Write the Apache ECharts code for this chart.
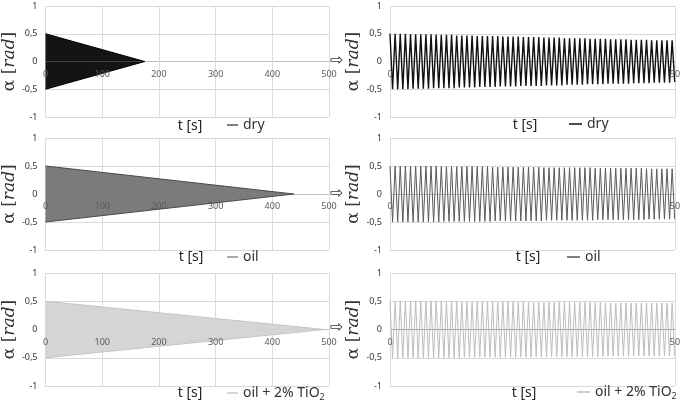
<!DOCTYPE html>
<html><head><meta charset="utf-8">
<script src="https://cdn.jsdelivr.net/npm/echarts@6/dist/echarts.min.js"></script>
<style>html,body{margin:0;padding:0;background:#fff}#c{width:685px;height:404px}</style>
</head><body><div id="c"></div>
<script>
// ---- data ----
const seriesNames = ['dry', 'oil', 'oil + 2% TiO2'];
const yTicks = [-1, -0.5, 0, 0.5, 1];
const yTickLabels = ['-1', '-0,5', '0', '0,5', '1'];

// left column: envelope of the dense oscillation (0..500 s)
const dryEnvT = [0, 175];
const oilEnvT = [0, 438];
const tio2EnvT = [0, 492];
const envUpper = [0.5, 0];
const envLower = [-0.5, 0];

// right column: zoom 0..50 s, successive peaks
const peakT = [
0,0.45,0.9,1.35,1.8,2.25,2.7,3.15,3.6,4.05,
4.5,4.95,5.4,5.85,6.3,6.75,7.2,7.65,8.1,8.55,
9,9.45,9.9,10.35,10.8,11.25,11.7,12.15,12.6,13.05,
13.5,13.95,14.4,14.85,15.3,15.75,16.2,16.65,17.1,17.55,
18,18.45,18.9,19.35,19.8,20.25,20.7,21.15,21.6,22.05,
22.5,22.95,23.4,23.85,24.3,24.75,25.2,25.65,26.1,26.55,
27,27.45,27.9,28.35,28.8,29.25,29.7,30.15,30.6,31.05,
31.5,31.95,32.4,32.85,33.3,33.75,34.2,34.65,35.1,35.55,
36,36.45,36.9,37.35,37.8,38.25,38.7,39.15,39.6,40.05,
40.5,40.95,41.4,41.85,42.3,42.75,43.2,43.65,44.1,44.55,
45,45.45,45.9,46.35,46.8,47.25,47.7,48.15,48.6,49.05,
49.5,49.95];
const dryPeaks = [
0.50,-0.50,0.50,-0.50,0.50,-0.50,0.50,-0.50,0.49,-0.49,
0.49,-0.49,0.49,-0.49,0.49,-0.49,0.49,-0.48,0.48,-0.48,
0.48,-0.48,0.48,-0.48,0.48,-0.48,0.47,-0.47,0.47,-0.47,
0.47,-0.47,0.47,-0.47,0.46,-0.46,0.46,-0.46,0.46,-0.46,
0.46,-0.46,0.46,-0.45,0.45,-0.45,0.45,-0.45,0.45,-0.45,
0.45,-0.44,0.44,-0.44,0.44,-0.44,0.44,-0.44,0.44,-0.44,
0.43,-0.43,0.43,-0.43,0.43,-0.43,0.43,-0.43,0.42,-0.42,
0.42,-0.42,0.42,-0.42,0.42,-0.42,0.42,-0.41,0.41,-0.41,
0.41,-0.41,0.41,-0.41,0.41,-0.40,0.40,-0.40,0.40,-0.40,
0.40,-0.40,0.40,-0.40,0.39,-0.39,0.39,-0.39,0.39,-0.39,
0.39,-0.39,0.38,-0.38,0.38,-0.38,0.38,-0.38,0.38,-0.38,
0.38,-0.37];
const oilPeaks = [
0.50,-0.50,0.50,-0.50,0.50,-0.50,0.50,-0.50,0.50,-0.50,
0.50,-0.50,0.50,-0.50,0.50,-0.50,0.50,-0.50,0.50,-0.50,
0.49,-0.49,0.49,-0.49,0.49,-0.49,0.49,-0.49,0.49,-0.49,
0.49,-0.49,0.49,-0.49,0.49,-0.49,0.49,-0.49,0.49,-0.49,
0.48,-0.48,0.48,-0.48,0.48,-0.48,0.48,-0.48,0.48,-0.48,
0.48,-0.48,0.48,-0.48,0.48,-0.48,0.48,-0.48,0.48,-0.48,
0.47,-0.47,0.47,-0.47,0.47,-0.47,0.47,-0.47,0.47,-0.47,
0.47,-0.47,0.47,-0.47,0.47,-0.47,0.47,-0.47,0.47,-0.47,
0.46,-0.46,0.46,-0.46,0.46,-0.46,0.46,-0.46,0.46,-0.46,
0.46,-0.46,0.46,-0.46,0.46,-0.46,0.46,-0.46,0.46,-0.46,
0.45,-0.45,0.45,-0.45,0.45,-0.45,0.45,-0.45,0.45,-0.45,
0.45,-0.45];
const tio2Peaks = [
0.50,-0.50,0.50,-0.50,0.50,-0.50,0.50,-0.50,0.50,-0.50,
0.50,-0.50,0.50,-0.50,0.50,-0.50,0.50,-0.50,0.50,-0.50,
0.50,-0.50,0.50,-0.50,0.50,-0.50,0.50,-0.50,0.49,-0.49,
0.49,-0.49,0.49,-0.49,0.49,-0.49,0.49,-0.49,0.49,-0.49,
0.49,-0.49,0.49,-0.49,0.49,-0.49,0.49,-0.49,0.49,-0.49,
0.49,-0.49,0.49,-0.49,0.49,-0.49,0.48,-0.48,0.48,-0.48,
0.48,-0.48,0.48,-0.48,0.48,-0.48,0.48,-0.48,0.48,-0.48,
0.48,-0.48,0.48,-0.48,0.48,-0.48,0.48,-0.48,0.48,-0.48,
0.48,-0.48,0.48,-0.48,0.47,-0.47,0.47,-0.47,0.47,-0.47,
0.47,-0.47,0.47,-0.47,0.47,-0.47,0.47,-0.47,0.47,-0.47,
0.47,-0.47,0.47,-0.47,0.47,-0.47,0.47,-0.47,0.47,-0.47,
0.47,-0.47];

// ---- layout / style ----
const rowsTop = [6, 138, 273];
const rowsH = [111, 112, 113];
const colLeft = [45, 390];
const colW = [284, 285];
const fills = ['#141414', '#7b7b7b', '#d5d5d5'];
const edges = ['#000000', '#4a4a4a', '#c4c4c4'];
const lines = ['#111111', '#5a5a5a', '#bdbdbd'];
const lineW = [1.4, 1, 1];
const leftLegendColors = ['#555555', '#8a8a8a', '#c8c8c8'];
const rightLegendColors = ['#111111', '#555555', '#bdbdbd'];
const envT = [dryEnvT, oilEnvT, tio2EnvT];
const peaks = [dryPeaks, oilPeaks, tio2Peaks];

const zip = (xs, ys) => xs.map((x, i) => [x, ys[i]]);
const font = 'Noto Sans';

const grid = [], xAxis = [], yAxis = [], series = [], legend = [], graphic = [];
for (let r = 0; r < 3; r++) {
  for (let c = 0; c < 2; c++) {
    const gi = grid.length;
    const xMax = c === 0 ? 500 : 50, xInt = c === 0 ? 100 : 50;
    const zeroCol = r === 2 && c === 1 ? '#9a9a9a' : '#c0c0c0';
    grid.push({left: colLeft[c], top: rowsTop[r], width: colW[c], height: rowsH[r], containLabel: false});
    // axis for gridlines (under the marks)
    const xi = xAxis.length;
    xAxis.push({
      type: 'value', gridIndex: gi, min: 0, max: xMax, interval: xInt,
      axisLine: {show: false, onZero: false}, axisTick: {show: false}, axisLabel: {show: false},
      splitLine: {show: true, lineStyle: {color: '#dcdcdc', width: 1}}
    });
    // axis for labels at y = 0 (over the marks)
    xAxis.push({
      type: 'value', gridIndex: gi, min: 0, max: xMax, interval: xInt,
      position: 'bottom', offset: -rowsH[r] / 2, z: 5,
      axisLine: {show: false, onZero: false}, axisTick: {show: false},
      axisLabel: {margin: 8, fontSize: 9, color: '#5a5a5a', fontFamily: font},
      splitLine: {show: false}
    });
    yAxis.push({
      type: 'value', gridIndex: gi, min: -1, max: 1, interval: 0.5,
      axisLine: {show: false}, axisTick: {show: false},
      axisLabel: {margin: 8, fontSize: 9, color: '#333', fontFamily: font,
        formatter: v => { const k = yTicks.indexOf(v); return k >= 0 ? yTickLabels[k] : ''; }},
      splitLine: {show: true, lineStyle: {color: ['#d9d9d9', '#d9d9d9', zeroCol, '#d9d9d9', '#d9d9d9'], width: 1}},
      name: 'α [{i|rad}]', nameLocation: 'middle', nameGap: 24, nameRotate: 90,
      nameTextStyle: {fontSize: 17, color: '#333', fontFamily: 'DejaVu Serif',
        rich: {i: {fontSize: 17, fontStyle: 'italic', fontFamily: 'DejaVu Serif', color: '#333'}}}
    });
    if (c === 0) {
      [envUpper, envLower].forEach(env => {
        series.push({
          type: 'line', name: seriesNames[r], xAxisIndex: xi, yAxisIndex: gi,
          data: zip(envT[r], env), symbol: 'none', silent: true,
          lineStyle: {color: edges[r], width: 1},
          itemStyle: {color: leftLegendColors[r]},
          areaStyle: {color: fills[r], opacity: 1}
        });
      });
    } else {
      series.push({
        type: 'line', name: seriesNames[r], xAxisIndex: xi, yAxisIndex: gi,
        data: zip(peakT, peaks[r]), symbol: 'none', silent: true,
        lineStyle: {color: lines[r], width: lineW[r]},
        itemStyle: {color: rightLegendColors[r]}
      });
    }
  }
}

const legendPos = [
  [[227, 118], [569, 117]],
  [[227, 250], [567, 250]],
  [[227, 386], [577, 385]]
];
for (let r = 0; r < 3; r++) {
  for (let c = 0; c < 2; c++) {
    legend.push({
      left: legendPos[r][c][0], top: legendPos[r][c][1], padding: 0, selectedMode: false,
      icon: 'rect', itemWidth: c === 0 ? 11 : 13, itemHeight: 1.5, itemGap: 4,
      data: [{name: seriesNames[r], itemStyle: {color: c === 0 ? leftLegendColors[r] : rightLegendColors[r]}}],
      formatter: n => n === 'oil + 2% TiO2' ? 'oil + 2% TiO{s|2}' : n,
      textStyle: {fontSize: 14, color: '#333', fontFamily: font, padding: [0, 0, 0, 0],
        rich: {s: {fontSize: 9, color: '#333', fontFamily: font, padding: [8, 0, 0, 0]}}}
    });
  }
}

const titlePos = [[190, 126], [525, 125], [191, 257], [528, 257], [190, 393], [524, 393]];
titlePos.forEach(p => graphic.push({
  type: 'text', x: p[0], y: p[1], z: 10,
  style: {text: 't [s]', font: '14px "Noto Sans"', fill: '#222', align: 'center', verticalAlign: 'middle'}
}));
[61, 194, 328].forEach(y => graphic.push({
  type: 'text', x: 337, y: y, z: 10,
  style: {text: '⇨', font: '16px "DejaVu Sans"', fill: '#333', align: 'center', verticalAlign: 'middle'}
}));

const chart = echarts.init(document.getElementById('c'), null, {renderer: 'canvas'});
chart.setOption({animation: false, backgroundColor: '#fff', grid, xAxis, yAxis, series, legend, graphic});
</script></body></html>
